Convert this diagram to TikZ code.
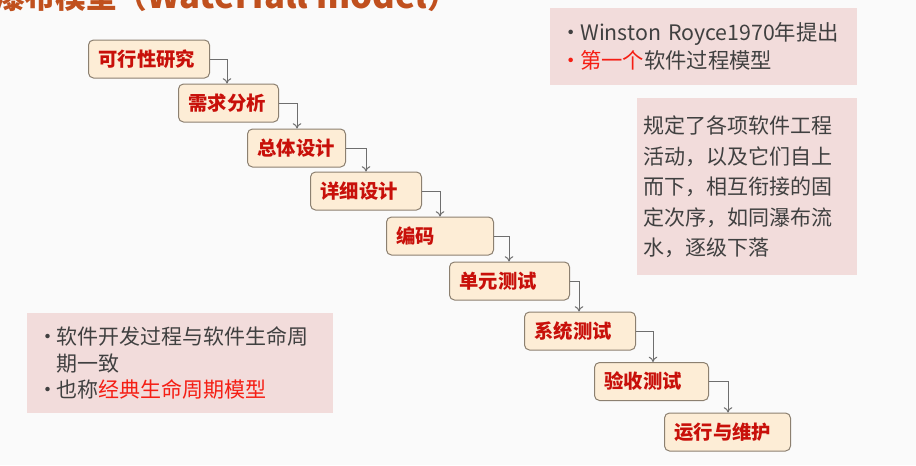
\documentclass[tikz,border=0pt]{standalone}
\usepackage{fontspec}
\setmainfont{Noto Sans CJK SC}
\usepackage{xcolor}
\usepackage{tikz}
\usetikzlibrary{arrows.meta}

\definecolor{pagebg}{RGB}{250,250,250}
\definecolor{titlebrown}{RGB}{192,80,30}
\definecolor{stagefill}{RGB}{253,237,214}
\definecolor{stageline}{RGB}{140,128,112}
\definecolor{stagered}{RGB}{200,16,10}
\definecolor{flowgray}{RGB}{110,110,110}
\definecolor{notepink}{RGB}{242,220,219}
\definecolor{notetext}{RGB}{64,64,64}
\definecolor{hired}{RGB}{245,30,20}

\tikzset{
  stage/.style={draw=stageline, fill=stagefill, line width=0.75pt, rounded corners=3.75pt,
    anchor=west, minimum height=28.5pt, inner xsep=7.5pt, align=left,
    font=\fontsize{14.5}{16}\selectfont\bfseries, text=stagered},
  flow/.style={draw=flowgray, line width=0.75pt, -{To[length=4pt,width=6.5pt]}},
  note/.style={fill=notepink, anchor=north west, align=left, text=notetext,
    font=\fontsize{16}{21}\selectfont},
}

\begin{document}
\begin{tikzpicture}[x=0.75pt,y=0.75pt,yscale=-1,xscale=1]
\useasboundingbox (0,0) rectangle (916,465);
\clip (0,0) rectangle (916,465);
\fill[pagebg] (0,0) rectangle (916,465);

% title, cut at the top edge
\node[anchor=base west, inner sep=0pt, text=titlebrown, font=\fontsize{23}{26}\selectfont\bfseries] (title) at (-6,8)
  {瀑布模型（{\fontsize{26}{28}\selectfont Waterfall model}）};

% waterfall stages
\node[stage, text width=75.75pt] (feas) at (88,59) {可行性研究};
\node[stage, text width=60pt] (req) at (178,103) {需求分析};
\node[stage, text width=58.5pt] (arch) at (247,148) {总体设计};
\node[stage, text width=68.25pt] (detail) at (310,191) {详细设计};
\node[stage, text width=65.25pt] (code) at (386,236) {编码};
\node[stage, text width=75pt] (unit) at (449,281) {单元测试};
\node[stage, text width=68.25pt] (sys) at (524,331) {系统测试};
\node[stage, text width=70.5pt] (accept) at (594,381.5) {验收测试};
\node[stage, text width=79.5pt] (maint) at (664,432) {运行与维护};

\foreach \a/\b/\x in {feas/req/227, req/arch/297, arch/detail/366, detail/code/440,
  code/unit/509, unit/sys/579, sys/accept/653, accept/maint/728}
  \draw[flow] (\a.east) -| (\x,0 |- \b.north);

% notes
\node[note, text width=215.25pt, inner xsep=7.5pt, minimum height=57.75pt] (origin) at (550,8)
  {\makebox[15pt][l]{•}Winston Royce1970年提出\\
   \makebox[15pt][l]{\color{hired}•}\textcolor{hired}{第一个}软件过程模型};
\node[note, text width=156pt, inner xsep=4.5pt, minimum height=132.75pt,
  font=\fontsize{15.75}{22.9}\selectfont] (idea) at (637,98)
  {规定了各项软件工程\\活动，以及它们自上\\而下，相互衔接的固\\定次序，如同瀑布流\\水，逐级下落};
\node[note, text width=214.5pt, inner xsep=7.5pt, minimum height=75pt,
  font=\fontsize{15.75}{19.9}\selectfont] (lifecycle) at (27,313)
  {\makebox[14.25pt][l]{•}软件开发过程与软件生命周\\
   \hspace*{14.25pt}期一致\\
   \makebox[14.25pt][l]{•}也称\textcolor{hired}{经典生命周期模型}};
\end{tikzpicture}
\end{document}
